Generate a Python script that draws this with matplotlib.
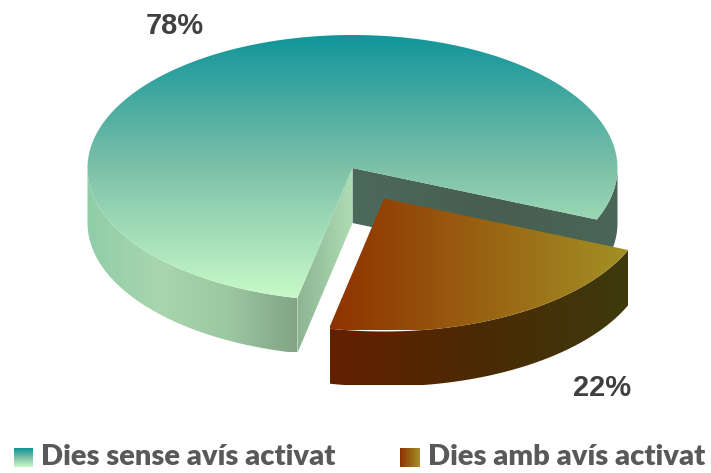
import numpy as np
import matplotlib
matplotlib.use("Agg")
import matplotlib.pyplot as plt
from matplotlib.colors import LinearSegmentedColormap as LSC
from matplotlib.patches import PathPatch
from matplotlib.path import Path

categories = ["Dies sense avís activat", "Dies amb avís activat"]
values = [78, 22]
pct_labels = ["78%", "22%"]

W, H = 711, 473
CX, CY, RX, RY, DEPTH = 352.5, 168, 265, 133, 55
OFFSET = (31.5, 30.5)
FRONT_ANGLE = -102.0

fig = plt.figure(figsize=(W / 100, H / 100), dpi=100)
ax = fig.add_axes([0, 0, 1, 1])
ax.set_axis_off()

def cm(*c):
    return LSC.from_list("g", list(c))

def fill(verts, cmap, bbox, vertical=False):
    """Fill a polygon with a linear gradient spanning bbox (x0,x1,y0,y1)."""
    path = Path(np.vstack([verts, verts[0]]), closed=True)
    patch = PathPatch(path, fc="none", ec="none", transform=ax.transData)
    ax.add_patch(patch)
    g = np.linspace(0, 1, 256)
    g = g[:, None] if vertical else g[None, :]
    im = ax.imshow(g, cmap=cmap, extent=[bbox[0], bbox[1], bbox[3], bbox[2]],
                   origin="upper", aspect="auto", interpolation="bilinear", zorder=patch.get_zorder())
    im.set_clip_path(patch)
    return im

def arc(a0, a1, dx=0, dy=0):
    t = np.radians(np.linspace(a0, a1, 240))
    return np.column_stack([CX + dx + RX * np.cos(t), CY + dy - RY * np.sin(t)])

def wall(a0, a1, dx=0, dy=0):
    top = arc(a0, a1, dx, dy)
    return np.vstack([top, top[::-1] + [0, DEPTH]])

def plane(a, dx=0, dy=0):
    p = arc(a, a, dx, dy)[0]
    tip = np.array([CX + dx, CY + dy])
    return np.array([tip, p, p + [0, DEPTH], tip + [0, DEPTH]])

# wedge angles derived from the values
sweep_b = 360 * values[1] / sum(values)
b0, b1 = FRONT_ANGLE, FRONT_ANGLE + sweep_b
a0, a1 = b1, FRONT_ANGLE + 360

top_a = cm("#10959A", "#7CC0A8", "#C8FAC8")
top_b = cm("#8F3200", "#A39024")
side_a = cm("#8FCDA8", "#A8D6AE", "#9CC8A2", "#83A484")
back_a = cm("#4C6A5C", "#475E50", "#4A6658")
cut_a = cm("#8CB492", "#AEDDB4")
side_b = cm("#642000", "#4A2A04", "#3E3A0E")

dx, dy = OFFSET
# teal pie: back wall with right outer wall as one shape, front wall, cut face, top
outer = arc(a0, 0)
back_shape = np.vstack([[[CX, CY]], outer, outer[::-1] + [0, DEPTH], [[CX, CY + DEPTH]]])
fill(back_shape, back_a, (352, 618, 168, 280))
fill(wall(180, a1), side_a, (87, 297, 168, 352))
fill(plane(a1), cut_a, (297, 353, 168, 352))
fill(np.vstack([[[CX, CY]], arc(a0, a1)]), top_a, (87, 618, 35, 299), vertical=True)

# brown slice: outer wall then top
fill(wall(b0, b1, dx, dy), side_b, (330, 628, 198, 385))
fill(np.vstack([[[CX + dx, CY + dy]], arc(b0, b1, dx, dy)]), top_b, (330, 628, 198, 330))

# percent labels
ax.text(175, 26, pct_labels[0], family="Liberation Sans", weight="bold", fontsize=21,
        color="#404040", ha="center", va="center")
ax.text(602, 388, pct_labels[1], family="Liberation Sans", weight="bold", fontsize=21,
        color="#404040", ha="center", va="center")

# legend
for (x0, x1, tx), name, cmap, vert in [((14, 33, 41), categories[0], top_a, True),
                                        ((400, 420, 428), categories[1], top_b, False)]:
    g = np.linspace(0, 1, 64)
    g = g[:, None] if vert else g[None, :]
    ax.imshow(g, cmap=cmap, extent=[x0, x1, 467, 448], origin="upper", aspect="auto")
    ax.text(tx, 457, name, family="Lato", weight="heavy", fontsize=21,
            color="#595959", ha="left", va="center")

ax.set_xlim(0, W)
ax.set_ylim(H, 0)
fig.savefig("out.png", dpi=100, facecolor="white")
